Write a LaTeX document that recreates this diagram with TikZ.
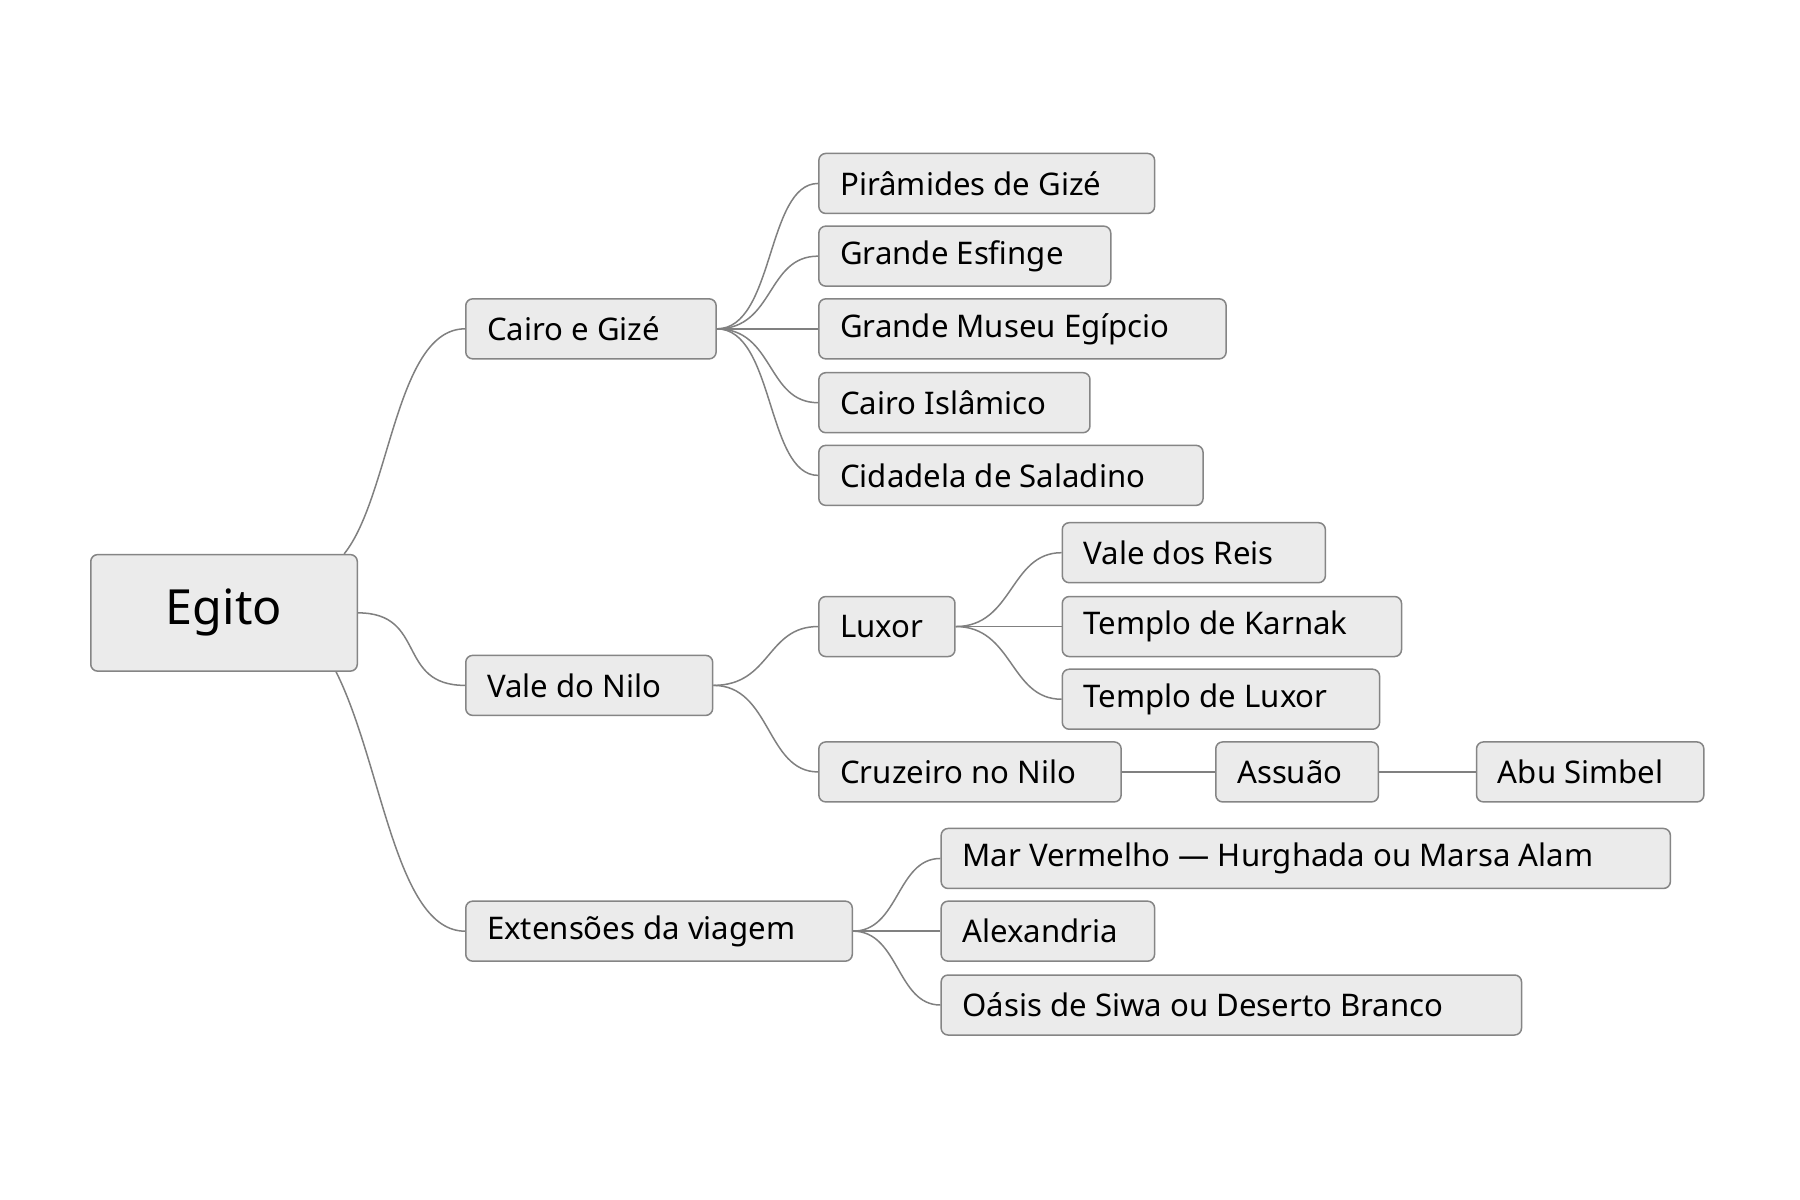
\documentclass[tikz,border=0pt]{standalone}
\usepackage{fontspec}
\setmainfont{Noto Sans}
\begin{document}
\begin{tikzpicture}[x=1pt,y=-1pt,
  box/.style={draw=black!48,fill=black!8,rounded corners=6pt,line width=1.3pt,inner sep=0pt,minimum height=52pt,anchor=west},
  lbl/.style={anchor=west,inner sep=0pt,font=\fontsize{27}{30}\selectfont},
  con/.style={draw=black!50,line width=1.3pt}]
\useasboundingbox[fill=white] (0,0) rectangle (1560,1040);
\newcommand\bx[5]{\node[box,minimum width={#3-#2}] (#1) at (#2,#4) {};
  \node[lbl] (#1t) at (#2+19,#4) {#5};}
\node[box,anchor=north west,minimum width=231,minimum height=101,font=\fontsize{42}{46}\selectfont] (eg) at (78,480) {Egito};
\bx{cg}{403}{620}{285}{Cairo e Gizé}
\bx{vn}{403}{617}{594}{Vale do Nilo}
\bx{ex}{403}{738}{807}{Extensões da viagem}
\bx{pi}{709}{1000}{159}{Pirâmides de Gizé}
\bx{ge}{709}{962}{222}{Grande Esfinge}
\bx{gm}{709}{1062}{285}{Grande Museu Egípcio}
\bx{ci}{709}{944}{349}{Cairo Islâmico}
\bx{cs}{709}{1042}{412}{Cidadela de Saladino}
\bx{lu}{709}{827}{543}{Luxor}
\bx{cn}{709}{971}{669}{Cruzeiro no Nilo}
\bx{vr}{920}{1148}{479}{Vale dos Reis}
\bx{tk}{920}{1214}{543}{Templo de Karnak}
\bx{tl}{920}{1195}{606}{Templo de Luxor}
\bx{as}{1053}{1194}{669}{Assuão}
\bx{ab}{1279}{1476}{669}{Abu Simbel}
\bx{mv}{815}{1447}{744}{Mar Vermelho — Hurghada ou Marsa Alam}
\bx{al}{815}{1000}{807}{Alexandria}
\bx{oa}{815}{1318}{871}{Oásis de Siwa ou Deserto Branco}
\draw[con] ([xshift=-12]eg.north east) .. controls +(40,-50) and +(-60,0) .. (cg.west);
\draw[con] (eg.east) .. controls +(60,0) and +(-60,0) .. (vn.west);
\draw[con] ([xshift=-19]eg.south east) .. controls +(40,80) and +(-60,0) .. (ex.west);
\foreach \c in {pi,ge,gm,ci,cs}{\draw[con] (cg.east) .. controls +(50,0) and +(-45,0) .. (\c.west);}
\foreach \c in {lu,cn}{\draw[con] (vn.east) .. controls +(50,0) and +(-45,0) .. (\c.west);}
\foreach \c in {vr,tk,tl}{\draw[con] (lu.east) .. controls +(50,0) and +(-45,0) .. (\c.west);}
\foreach \c in {mv,al,oa}{\draw[con] (ex.east) .. controls +(40,0) and +(-38,0) .. (\c.west);}
\draw[con] (cn.east) -- (as.west);
\draw[con] (as.east) -- (ab.west);
\end{tikzpicture}
\end{document}
